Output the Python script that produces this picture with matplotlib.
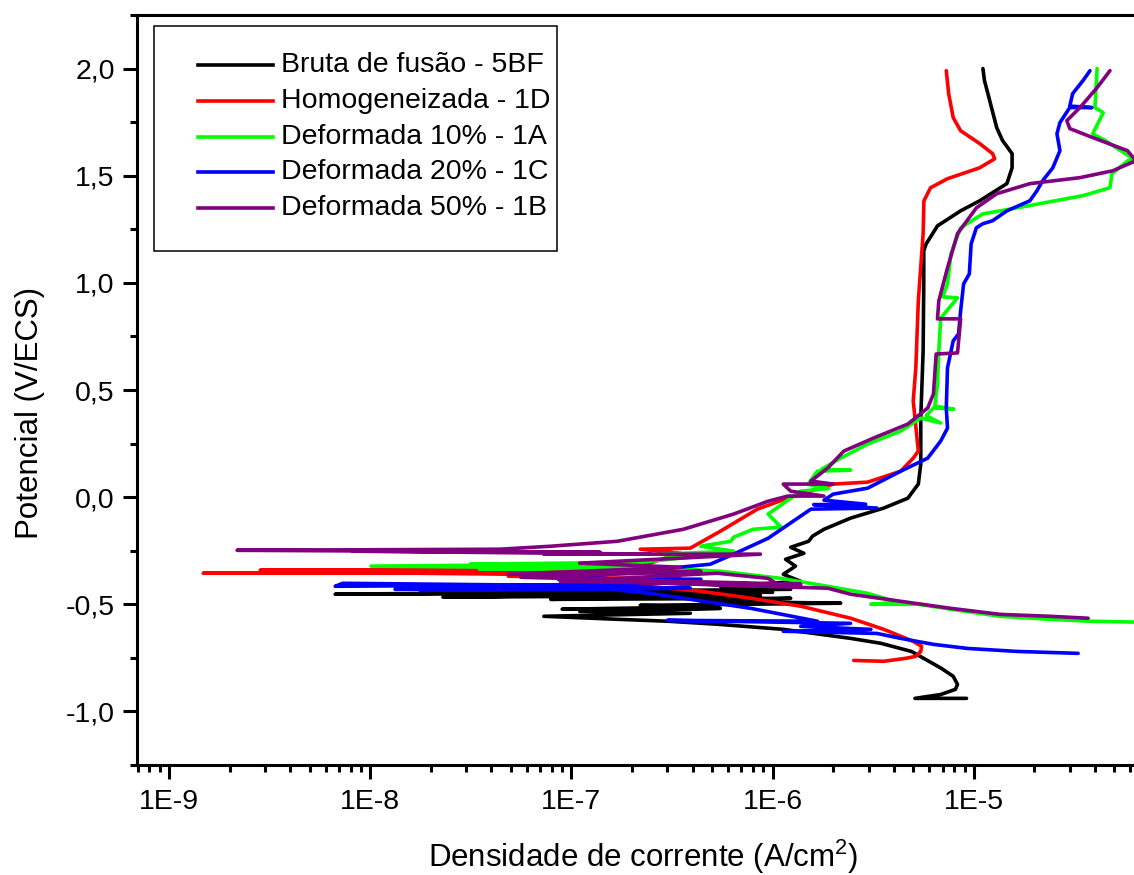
import numpy as np
import matplotlib
matplotlib.use("Agg")
import matplotlib.pyplot as plt
from matplotlib.ticker import FixedLocator, FuncFormatter, LogLocator, MultipleLocator
from matplotlib.lines import Line2D
from matplotlib.patches import Rectangle

plt.rcParams['font.family'] = ['Liberation Sans', 'DejaVu Sans']
plt.rcParams['mathtext.fontset'] = 'custom'
plt.rcParams['mathtext.rm'] = 'Liberation Sans'

# ---- polarization curves: current density (A/cm2) vs potential (V/ECS) ----
bf_i = [9.2e-6, 5.1e-6, 6.85e-6, 8.1e-6, 8.3e-6, 7.9e-6, 6.9e-6, 4.9e-6, 3.45e-6, 2.44e-6,
        1.13e-6, 5.3e-7, 3.0e-7, 1.69e-7, 7.3e-8, 3.9e-7, 1.1e-7, 5.5e-7, 9.0e-8, 4.8e-7,
        2.2e-7, 2.18e-6, 4.4e-7, 1.23e-6, 7.9e-8, 8.7e-7, 2.3e-8, 4.4e-7, 6.7e-9, 2.47e-7,
        1.0e-6, 3.5e-7, 1.23e-6, 5.5e-7, 1.38e-6, 1.13e-6, 1.3e-6, 1.16e-6, 1.43e-6, 1.23e-6,
        1.51e-6, 1.58e-6, 1.8e-6, 2.44e-6, 3.57e-6, 4.7e-6, 5.3e-6, 5.45e-6, 5.45e-6, 5.6e-6,
        5.64e-6, 5.64e-6, 5.8e-6, 6.6e-6, 8.6e-6, 1.07e-5, 1.46e-5, 1.55e-5, 1.55e-5, 1.39e-5,
        1.3e-5, 1.2e-5, 1.13e-5, 1.11e-5]
bf_e = [-0.939, -0.939, -0.921, -0.897, -0.874, -0.836, -0.799, -0.720, -0.682, -0.659,
        -0.617, -0.593, -0.579, -0.570, -0.556, -0.542, -0.533, -0.519, -0.523, -0.512,
        -0.505, -0.495, -0.486, -0.472, -0.477, -0.458, -0.467, -0.449, -0.453, -0.439,
        -0.444, -0.435, -0.430, -0.416, -0.393, -0.360, -0.322, -0.290, -0.262, -0.234,
        -0.206, -0.182, -0.150, -0.098, -0.051, -0.005, 0.061, 0.154, 0.369, 0.682,
        0.995, 1.150, 1.182, 1.266, 1.336, 1.383, 1.463, 1.537, 1.603, 1.664,
        1.724, 1.850, 1.944, 2.000]

h1d_i = [2.53e-6, 3.57e-6, 4.6e-6, 5.15e-6, 5.45e-6, 5.5e-6, 5.0e-6, 3.57e-6, 2.44e-6, 1.38e-6,
         7.8e-7, 4.4e-7, 3.0e-7, 2.03e-7, 1.39e-7, 3.5e-7, 4.86e-8, 1.39e-7, 1.77e-8, 8.8e-8,
         1.48e-9, 5.6e-8, 2.84e-9, 1.75e-7, 2.2e-7, 3.5e-7, 2.2e-7, 3.9e-7, 5.5e-7, 8.4e-7,
         1.23e-6, 2.0e-6, 2.97e-6, 4.33e-6, 5.0e-6, 5.3e-6, 5.0e-6, 5.15e-6, 5.3e-6, 5.6e-6,
         5.65e-6, 6.1e-6, 7.4e-6, 1.07e-5, 1.27e-5, 1.24e-5, 1.07e-5, 8.6e-6, 7.9e-6, 7.5e-6,
         7.3e-6]
h1d_e = [-0.762, -0.766, -0.752, -0.743, -0.720, -0.696, -0.673, -0.617, -0.565, -0.509,
         -0.472, -0.439, -0.425, -0.407, -0.393, -0.383, -0.369, -0.364, -0.355, -0.355,
         -0.355, -0.346, -0.341, -0.336, -0.322, -0.262, -0.243, -0.238, -0.159, -0.056,
         0.000, 0.061, 0.070, 0.121, 0.182, 0.215, 0.449, 0.603, 0.916, 1.229,
         1.383, 1.444, 1.486, 1.537, 1.579, 1.603, 1.650, 1.710, 1.771, 1.883,
         1.990]

d10_i = [7.1e-5, 3.78e-5, 2.39e-5, 1.35e-5, 7.7e-6, 5.3e-6, 3.08e-6, 4.2e-6, 2.97e-6, 1.88e-6,
         1.1e-6, 5.5e-7, 2.47e-7, 3.5e-8, 1.75e-7, 1.01e-8, 1.39e-7, 3.15e-8, 2.2e-7, 3.9e-7,
         2.77e-7, 6.4e-7, 4.4e-7, 6.2e-7, 6.4e-7, 8.0e-7, 1.1e-6, 9.5e-7, 1.38e-6, 1.9e-6,
         1.5e-6, 1.67e-6, 2.44e-6, 1.75e-6, 2.18e-6, 2.97e-6, 4.33e-6, 5.45e-6, 6.85e-6, 5.8e-6,
         6.3e-6, 7.95e-6, 6.4e-6, 6.6e-6, 6.7e-6, 6.85e-6, 8.3e-6, 7.0e-6, 7.4e-6, 7.7e-6,
         8.6e-6, 1.11e-5, 1.64e-5, 3.49e-5, 4.75e-5, 4.86e-5, 5.83e-5, 6.2e-5, 4.5e-5, 3.9e-5,
         4.4e-5, 4.0e-5, 4.1e-5]
d10_e = [-0.584, -0.579, -0.570, -0.556, -0.523, -0.500, -0.500, -0.490, -0.449, -0.416,
         -0.379, -0.346, -0.327, -0.336, -0.332, -0.322, -0.313, -0.313, -0.304, -0.280,
         -0.266, -0.252, -0.229, -0.206, -0.187, -0.150, -0.140, -0.079, 0.028, 0.040,
         0.060, 0.121, 0.126, 0.130, 0.182, 0.248, 0.308, 0.369, 0.346, 0.380,
         0.416, 0.411, 0.425, 0.528, 0.682, 0.836, 0.930, 0.935, 0.995, 1.136,
         1.257, 1.322, 1.350, 1.407, 1.444, 1.509, 1.570, 1.579, 1.664, 1.696,
         1.794, 1.818, 2.000]

d20_i = [3.3e-5, 1.64e-5, 9.3e-6, 6.3e-6, 4.33e-6, 3.3e-6, 1.13e-6, 3.08e-6, 1.38e-6, 2.44e-6,
         3.0e-7, 1.67e-6, 7.8e-7, 3.6e-7, 2.47e-7, 1.39e-7, 1.77e-8, 3.9e-7, 1.33e-8, 2.47e-7,
         7.3e-9, 6.7e-9, 1.75e-7, 4.4e-7, 8.6e-8, 4.9e-7, 6.4e-7, 9.5e-7, 1.55e-6, 3.3e-6,
         1.6e-6, 2.9e-6, 1.8e-6, 2.0e-6, 2.97e-6, 4.33e-6, 5.9e-6, 6.85e-6, 7.4e-6, 7.3e-6,
         7.4e-6, 7.9e-6, 8.4e-6, 8.6e-6, 8.9e-6, 9.5e-6, 9.7e-6, 1.03e-5, 1.11e-5, 1.24e-5,
         1.46e-5, 1.9e-5, 2.06e-5, 2.2e-5, 2.47e-5, 2.68e-5, 2.59e-5, 2.68e-5, 3.0e-5, 3.86e-5,
         3.0e-5, 3.1e-5, 3.49e-5, 3.78e-5]
d20_e = [-0.729, -0.720, -0.706, -0.687, -0.659, -0.636, -0.626, -0.617, -0.603, -0.589,
         -0.575, -0.579, -0.519, -0.472, -0.449, -0.425, -0.435, -0.425, -0.430, -0.416,
         -0.402, -0.416, -0.407, -0.383, -0.383, -0.313, -0.266, -0.192, -0.056, -0.051,
         -0.035, -0.033, -0.014, 0.014, 0.042, 0.121, 0.182, 0.262, 0.322, 0.416,
         0.603, 0.729, 0.762, 0.869, 0.995, 1.042, 1.182, 1.257, 1.276, 1.290,
         1.336, 1.383, 1.430, 1.477, 1.537, 1.617, 1.696, 1.748, 1.818, 1.818,
         1.825, 1.883, 1.944, 1.990]

d50_i = [3.7e-5, 2.39e-5, 1.35e-5, 7.7e-6, 4.33e-6, 2.44e-6, 1.88e-6, 1.39e-7, 1.1e-6, 9.5e-7,
         5.3e-7, 8.8e-8, 1.38e-6, 5.6e-8, 4.4e-7, 4.86e-8, 3.5e-7, 1.1e-7, 8.7e-7, 7.3e-8,
         2.47e-7, 8.2e-9, 1.39e-7, 2.18e-9, 4.4e-8, 7.9e-8, 1.69e-7, 3.6e-7, 6.4e-7, 9.5e-7,
         1.19e-6, 1.8e-6, 1.23e-6, 1.13e-6, 2.0e-6, 1.55e-6, 1.88e-6, 2.26e-6, 3.18e-6, 4.7e-6,
         5.9e-6, 6.3e-6, 6.5e-6, 8.3e-6, 8.6e-6, 6.6e-6, 6.7e-6, 7.4e-6, 8.3e-6, 1.03e-5,
         1.3e-5, 1.9e-5, 3.37e-5, 4.9e-5, 6.4e-5, 5.8e-5, 3.9e-5, 3.0e-5, 2.9e-5, 3.37e-5,
         4.1e-5, 4.75e-5]
d50_e = [-0.565, -0.556, -0.547, -0.519, -0.486, -0.453, -0.425, -0.393, -0.416, -0.379,
         -0.355, -0.393, -0.407, -0.374, -0.346, -0.360, -0.327, -0.308, -0.266, -0.266,
         -0.266, -0.252, -0.257, -0.248, -0.243, -0.229, -0.206, -0.150, -0.079, -0.019,
         0.005, 0.005, 0.028, 0.061, 0.061, 0.075, 0.136, 0.215, 0.276, 0.341,
         0.416, 0.481, 0.668, 0.673, 0.832, 0.832, 0.916, 1.070, 1.230, 1.350,
         1.416, 1.463, 1.491, 1.523, 1.570, 1.617, 1.678, 1.720, 1.757, 1.818,
         1.911, 1.990]

series = [
    ("Bruta de fusão - 5BF", bf_i, bf_e, "#000000"),
    ("Homogeneizada - 1D", h1d_i, h1d_e, "#FF0000"),
    ("Deformada 10% - 1A", d10_i, d10_e, "#00FF00"),
    ("Deformada 20% - 1C", d20_i, d20_e, "#0000FF"),
    ("Deformada 50% - 1B", d50_i, d50_e, "#800080"),
]

W, H = 1134, 875
fig = plt.figure(figsize=(W / 100, H / 100), dpi=100)


def fx(px):
    return px / W


def fy(py):
    return 1 - py / H


# axes frame runs past the right edge of the figure
ax = fig.add_axes([fx(137), fy(765), fx(1175) - fx(137), fy(15) - fy(765)])

for label, cur, pot, col in series:
    ax.plot(cur, pot, color=col, lw=2.6, solid_joinstyle='round', solid_capstyle='round')

ax.set_xscale('log')
ax.set_xlim(10 ** -9.159, 1e-4)
ax.set_ylim(-1.25, 2.25)

ax.xaxis.set_major_locator(FixedLocator([1e-9, 1e-8, 1e-7, 1e-6, 1e-5]))
ax.xaxis.set_minor_locator(LogLocator(base=10, subs=np.arange(2, 10), numticks=20))
ax.xaxis.set_major_formatter(FuncFormatter(lambda v, p: f"1E{int(round(np.log10(v)))}"))
ax.yaxis.set_major_locator(MultipleLocator(0.5))
ax.yaxis.set_minor_locator(MultipleLocator(0.25))
ax.yaxis.set_major_formatter(FuncFormatter(lambda v, p: f"{v:.1f}".replace('.', ',')))

ax.tick_params(which='major', direction='out', length=10, width=2.2, labelsize=20.5, pad=6)
ax.tick_params(which='minor', direction='out', length=5, width=2.2)
ax.tick_params(axis='x', which='major', pad=7)
for s in ax.spines.values():
    s.set_linewidth(2.2)

fig.text(fx(30), fy(413), "Potencial (V/ECS)", rotation=90, ha='center', va='center',
         fontsize=22.5)
fig.text(fx(643), fy(857), r"Densidade de corrente (A/cm$^{\mathrm{2}}$)", ha='center',
         va='center', fontsize=22.5)

# legend box
fig.patches.append(Rectangle((fx(154), fy(251)), fx(557) - fx(154), fy(26) - fy(251),
                             transform=fig.transFigure, fill=False, edgecolor='black',
                             lw=1.1, zorder=5))
rows = [65, 101, 137, 172, 208]
for (label, cur, pot, col), ry in zip(series, rows):
    fig.add_artist(Line2D([fx(198), fx(273)], [fy(ry), fy(ry)], color=col, lw=2.6,
                          transform=fig.transFigure))
    fig.text(fx(281), fy(ry), label, ha='left', va='center', fontsize=20.5)

fig.savefig("out.png", dpi=100)
